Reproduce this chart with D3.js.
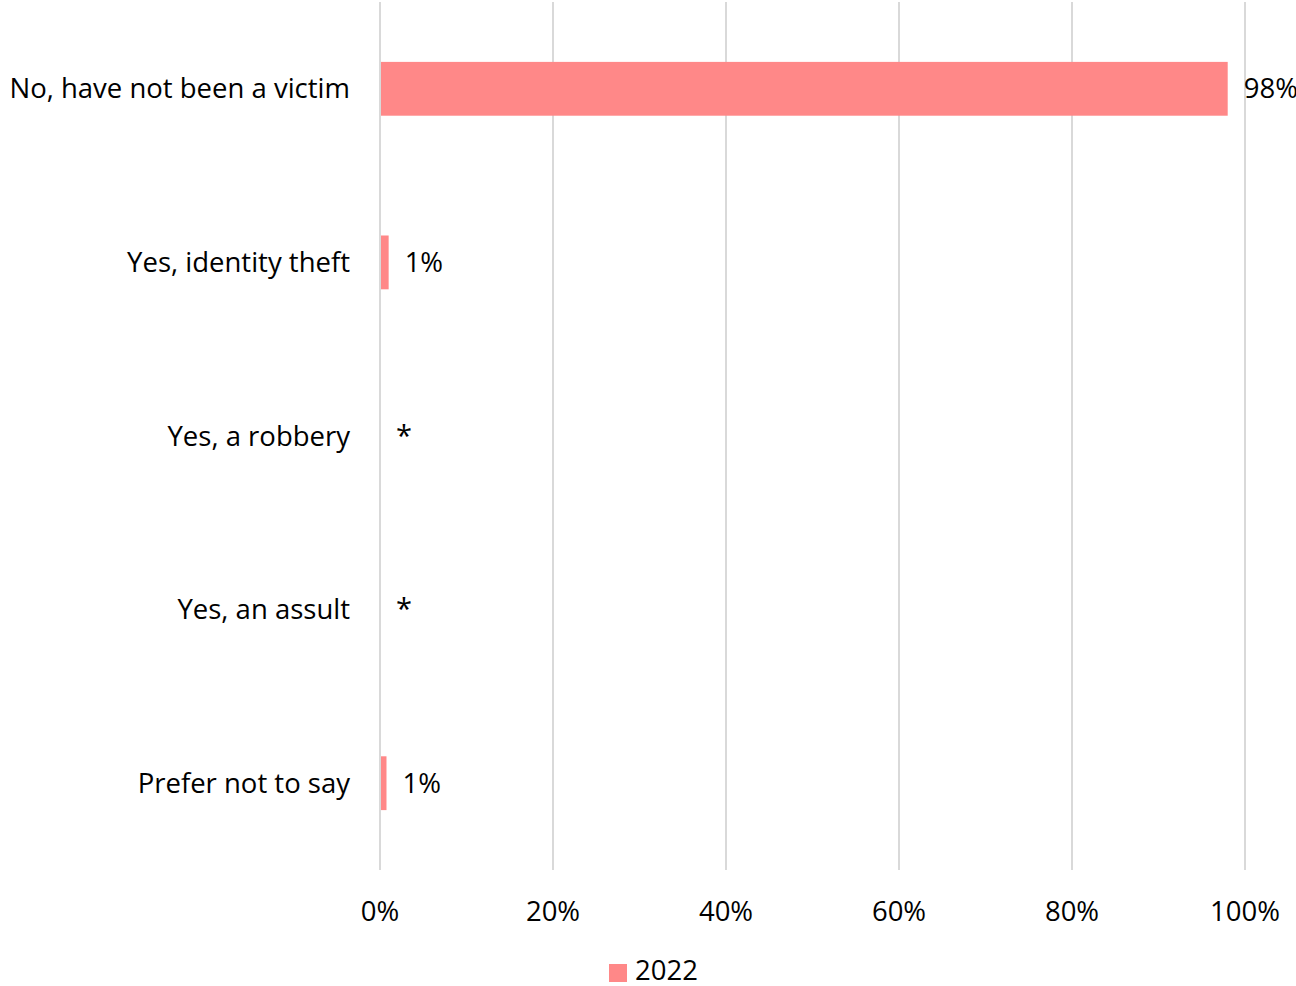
<!DOCTYPE html>
<html><head><meta charset="utf-8">
<script src="https://cdn.jsdelivr.net/npm/d3@7"></script>
<style>body{margin:0;background:#fff}svg{display:block}text{font-family:"Open Sans",Lato,sans-serif;fill:#000}</style>
</head><body>
<svg id="chart" width="1296" height="986"></svg>
<script>
const categories = ["No, have not been a victim","Yes, identity theft","Yes, a robbery","Yes, an assult","Prefer not to say"];
const values = [98, 1.0, 0, 0, 0.75];
const valueLabels = ["98%","1%","*","*","1%"];
const ticks = [0,20,40,60,80,100];
const seriesName = "2022";

const svg = d3.select("#chart");
const m = {left:380, right:1245, top:2, bottom:870};
const x = d3.scaleLinear().domain([0,100]).range([m.left, m.right]);
const y = d3.scaleBand().domain(categories).range([m.top, m.bottom]).paddingInner(0.69).paddingOuter(0.345);
const color = "#FF8888";
const fs = 27.5;

// gridlines
svg.append("g").selectAll("line").data(ticks).join("line")
  .attr("x1", d=>x(d)).attr("x2", d=>x(d)).attr("y1", m.top).attr("y2", m.bottom)
  .attr("stroke", "#d9d9d9").attr("stroke-width", 2);

// tick labels
svg.append("g").selectAll("text").data(ticks).join("text")
  .attr("x", d=>x(d)).attr("y", 921).attr("text-anchor","middle")
  .style("font-size", fs+"px").text(d=>d+"%");

// bars
svg.append("g").selectAll("rect").data(values).join("rect")
  .attr("x", x(0)+1).attr("y", (d,i)=>y(categories[i]))
  .attr("width", d=>Math.max(0, x(d)-x(0)-1)).attr("height", y.bandwidth())
  .attr("fill", color);

// category labels
svg.append("g").selectAll("text").data(categories).join("text")
  .attr("x", 350).attr("y", d=>y(d)+y.bandwidth()/2).attr("dy","0.35em")
  .attr("text-anchor","end").style("font-size", fs+"px").text(d=>d);

// value labels
svg.append("g").selectAll("text").data(values).join("text")
  .attr("x", d=>x(d)+16).attr("y", (d,i)=>y(categories[i])+y.bandwidth()/2)
  .attr("dy",(d,i)=>valueLabels[i]==="*"?"0.33em":"0.35em")
  .style("font-size",(d,i)=>valueLabels[i]==="*"?"29px":fs+"px").text((d,i)=>valueLabels[i]);

// legend
const lg = svg.append("g");
lg.append("rect").attr("x",609).attr("y",964).attr("width",18).attr("height",18).attr("fill",color);
lg.append("text").attr("x",635).attr("y",980).style("font-size", fs+"px").text(seriesName);
</script>
</body></html>
